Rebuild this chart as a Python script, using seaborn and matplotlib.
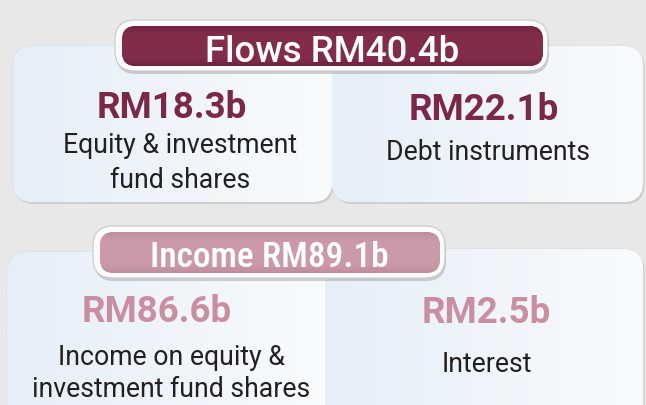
import numpy as np
import matplotlib
matplotlib.use("Agg")
import matplotlib.pyplot as plt
from matplotlib.patches import FancyBboxPatch
from matplotlib.colors import LinearSegmentedColormap
from matplotlib import font_manager
import seaborn as sns

# ---------------- data ----------------
group_names = ["Flows", "Income"]
group_totals = [40.4, 89.1]
item_values = [18.3, 22.1, 86.6, 2.5]
item_labels = ["Equity & investment\nfund shares", "Debt instruments",
               "Income on equity &\ninvestment fund shares", "Interest"]
item_group = [0, 0, 1, 1]

# ---------------- style / layout ----------------
sns.set_theme(style="white")
W, H = 646, 406
bg_color = "#e8e8e8"
banner_colors = [("#6f2241", "#822c4b"), ("#c08c9c", "#cb9aa9")]
value_colors = ["#7b2747", "#c98fa1"]
text_color = "#231f20"

banner_boxes = [(115, 548, 21, 72), (93, 445, 227, 279)]
banner_base = [(332, 61.5), (269, 267)]
card_boxes = [(13, 332, 47, 203), (332, 643, 47, 203),
              (7, 325, 253, 425), (325, 643, 250, 425)]
value_base = [(172, 118), (484, 120), (157, 322), (486, 323)]
label_base = [(180, 153), (488, 160), (171, 365), (487, 372)]
label_lh = [35, 35, 32, 32]


def has_font(name):
    try:
        font_manager.findfont(font_manager.FontProperties(family=name),
                              fallback_to_default=False)
        return True
    except Exception:
        return False


narrow = None
for cand in ["Roboto Condensed", "Liberation Sans Narrow"]:
    if has_font(cand):
        narrow = cand
        break
banner_fonts = [("Roboto", 26.5), (narrow, 25.5) if narrow else ("Roboto", 22.5)]

fig = plt.figure(figsize=(W / 100, H / 100), dpi=100)
fig.patch.set_facecolor(bg_color)
ax = fig.add_axes([0, 0, 1, 1])
ax.set_facecolor(bg_color)


def rrect(x0, x1, y0, y1, r, **kw):
    return FancyBboxPatch((x0, y0), x1 - x0, y1 - y0,
                          boxstyle=f"round,pad=0,rounding_size={r}", **kw)


def gradient(patch, c0, c1, box, vertical=False, z=1, mid=False):
    x0, x1, y0, y1 = box
    n = 256
    t = np.linspace(0, 1, n)
    if mid:
        t = 1 - np.abs(t - 0.5) * 2
        t = np.clip(t * 2.5, 0, 1)
    img = t.reshape(-1, 1) if vertical else t.reshape(1, -1)
    cmap = LinearSegmentedColormap.from_list("g", [c0, c1])
    im = ax.imshow(img, extent=(x0, x1, y1, y0), cmap=cmap, aspect="auto",
                   origin="upper", zorder=z, interpolation="bilinear")
    im.set_clip_path(patch)


# cards
for i, (x0, x1, y0, y1) in enumerate(card_boxes):
    sh = rrect(x0 + 1.5, x1 + 1.5, y0 + 2, y1 + 2, 20, facecolor="#b9b9b9",
               edgecolor="none", alpha=0.6, zorder=1)
    ax.add_patch(sh)
    p = rrect(x0, x1, y0, y1, 20, facecolor="#f3f6fb", edgecolor="#d6d9dd",
              lw=0.6, zorder=2)
    ax.add_patch(p)
    gradient(p, "#e6eef8", "#f9fbfd", (x0, x1, y0, y1), z=2.1)

# banners
for g, (x0, x1, y0, y1) in enumerate(banner_boxes):
    sh = rrect(x0 + 1, x1 + 1, y0 + 3, y1 + 3, 20, facecolor="#9a9a9a",
               edgecolor="none", alpha=0.45, zorder=5)
    ax.add_patch(sh)
    outer = rrect(x0, x1, y0, y1, 20, facecolor="#fbfbfb", edgecolor="#c9c9c9",
                  lw=0.8, zorder=6)
    ax.add_patch(outer)
    ib = (x0 + 7, x1 - 5, y0 + 6, y1 - 5)
    inner = rrect(*ib, 14, facecolor=banner_colors[g][1], edgecolor="none",
                  zorder=7)
    ax.add_patch(inner)
    gradient(inner, banner_colors[g][0], banner_colors[g][1], ib,
             vertical=True, z=7.1, mid=True)
    fam, size = banner_fonts[g]
    bx, by = banner_base[g]
    ax.text(bx, by, f"{group_names[g]} RM{group_totals[g]:.1f}b",
            ha="center", va="baseline", color="white", fontsize=size,
            family=fam, fontweight="medium", zorder=8)

# card texts
for i, v in enumerate(item_values):
    vx, vy = value_base[i]
    ax.text(vx, vy, f"RM{v:.1f}b", ha="center", va="baseline",
            color=value_colors[item_group[i]], fontsize=26.5,
            family="Roboto", fontweight="bold", zorder=4)
    lx, ly = label_base[i]
    for k, line in enumerate(item_labels[i].split("\n")):
        ax.text(lx, ly + k * label_lh[i], line, ha="center", va="baseline",
                color=text_color, fontsize=19.2, family="Roboto", zorder=4)

ax.set_xlim(0, W)
ax.set_ylim(H, 0)
ax.set_aspect("auto")
ax.axis("off")
fig.savefig("out.png", dpi=100, facecolor=bg_color)
